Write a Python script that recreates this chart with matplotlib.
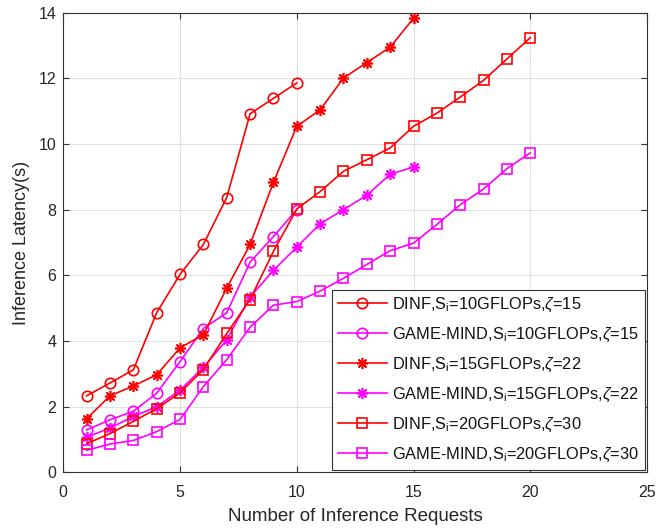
import matplotlib
matplotlib.use('Agg')
import matplotlib.pyplot as plt

plt.rcParams['font.family'] = ['Liberation Sans', 'DejaVu Sans']
plt.rcParams['mathtext.fontset'] = 'custom'
plt.rcParams['mathtext.rm'] = 'Liberation Sans'
plt.rcParams['mathtext.it'] = 'Liberation Sans:italic'

# data
x10 = list(range(1, 11))
x15 = list(range(1, 16))
x20 = list(range(1, 21))

dinf_10 = [2.33, 2.72, 3.12, 4.86, 6.03, 6.94, 8.37, 10.92, 11.39, 11.86]
game_10 = [1.29, 1.60, 1.86, 2.41, 3.37, 4.38, 4.86, 6.40, 7.18, 8.00]

dinf_15 = [1.63, 2.33, 2.63, 2.97, 3.79, 4.19, 5.61, 6.94, 8.83, 10.54,
           11.04, 12.01, 12.48, 12.95, 13.83]
game_15 = [1.07, 1.35, 1.70, 2.00, 2.50, 3.20, 4.03, 5.34, 6.15, 6.86,
           7.57, 8.00, 8.44, 9.08, 9.30]

dinf_20 = [0.87, 1.18, 1.55, 1.94, 2.42, 3.13, 4.23, 5.26, 6.73, 8.02,
           8.55, 9.17, 9.52, 9.88, 10.54, 10.94, 11.43, 11.94, 12.59, 13.24]
game_20 = [0.67, 0.86, 0.97, 1.24, 1.61, 2.61, 3.43, 4.42, 5.09, 5.20,
           5.52, 5.91, 6.33, 6.75, 6.98, 7.55, 8.15, 8.63, 9.25, 9.73]

labels = [r'DINF,S$_\mathrm{i}$=10GFLOPs,$\zeta$=15',
          r'GAME-MIND,S$_\mathrm{i}$=10GFLOPs,$\zeta$=15',
          r'DINF,S$_\mathrm{i}$=15GFLOPs,$\zeta$=22',
          r'GAME-MIND,S$_\mathrm{i}$=15GFLOPs,$\zeta$=22',
          r'DINF,S$_\mathrm{i}$=20GFLOPs,$\zeta$=30',
          r'GAME-MIND,S$_\mathrm{i}$=20GFLOPs,$\zeta$=30']

red = '#ff0000'
mag = '#ff00ff'
star = (8, 2, 0)
txt = '#262626'

fig = plt.figure(figsize=(6.57, 5.31), dpi=100)
ax = fig.add_axes([63.3 / 657, (531 - 472.3) / 531, (647 - 63.3) / 657, (472.3 - 12.7) / 531])

kw = dict(linewidth=1.2, markerfacecolor='none', markeredgewidth=1.2)
ax.plot(x10, dinf_10, color=red, marker='o', markersize=7.5, markeredgecolor=red, label=labels[0], **kw)
ax.plot(x10, game_10, color=mag, marker='o', markersize=7.5, markeredgecolor=mag, label=labels[1], **kw)
ax.plot(x15, dinf_15, color=red, marker=star, markersize=8, markeredgecolor=red, label=labels[2], **kw)
ax.plot(x15, game_15, color=mag, marker=star, markersize=8, markeredgecolor=mag, label=labels[3], **kw)
ax.plot(x20, dinf_20, color=red, marker='s', markersize=6.8, markeredgecolor=red, label=labels[4], **kw)
ax.plot(x20, game_20, color=mag, marker='s', markersize=6.8, markeredgecolor=mag, label=labels[5], **kw)

ax.set_xlim(0, 25)
ax.set_ylim(0, 14)
ax.set_xticks(range(0, 26, 5))
ax.set_yticks(range(0, 15, 2))
ax.grid(True, color='#e0e0e0', linewidth=0.8)
ax.set_axisbelow(True)
ax.tick_params(direction='in', labelsize=11.5, top=True, right=True, length=4,
               color='#333333', labelcolor=txt)
ax.tick_params(axis='x', pad=9)
ax.tick_params(axis='y', pad=5)
for s in ax.spines.values():
    s.set_color('#333333')
    s.set_linewidth(0.8)

ax.set_xlabel('Number of Inference Requests', fontsize=13.5, color=txt, labelpad=6)
ax.set_ylabel('Inference Latency(s)', fontsize=13, color=txt, labelpad=6)

leg = ax.legend(loc='lower right', fontsize=11.8, frameon=True, fancybox=False,
                edgecolor='#333333', framealpha=1, borderaxespad=0.15,
                handlelength=3.0, labelspacing=0.72, borderpad=0.35, handletextpad=0.3)
leg.get_frame().set_linewidth(0.8)
for t in leg.get_texts():
    t.set_color('#111111')

fig.savefig('out.png', dpi=100)
